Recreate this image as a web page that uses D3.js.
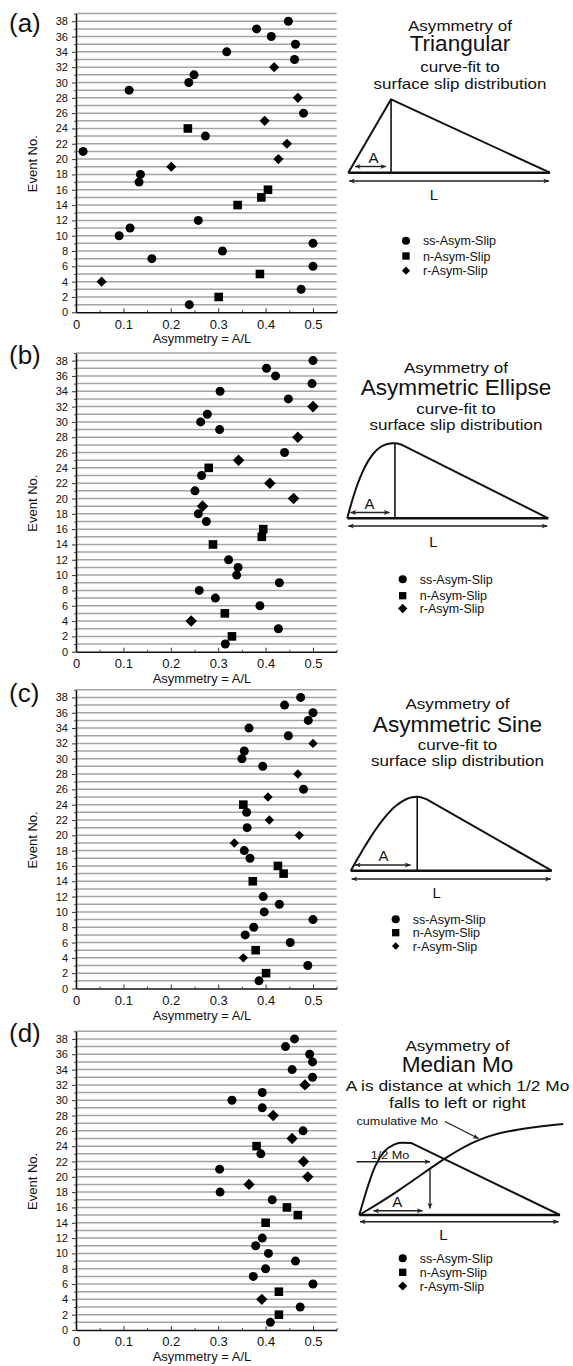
<!DOCTYPE html>
<html><head><meta charset="utf-8">
<script src="https://cdn.jsdelivr.net/npm/d3@7"></script>
<style>
body{margin:0;background:#fff}
svg{display:block}
text{font-family:"Liberation Sans",Arial,Helvetica,sans-serif;fill:#111}
</style>
</head><body>
<svg id="chart" width="573" height="1366"></svg>
<script>
// ---------------- data ----------------
const xTicks = [0, 0.1, 0.2, 0.3, 0.4, 0.5];
const xTickLabels = ["0", "0.1", "0.2", "0.3", "0.4", "0.5"];
const xMinorTicks = [0.05, 0.15, 0.25, 0.35, 0.45, 0.55];
const yTicks = [0, 2, 4, 6, 8, 10, 12, 14, 16, 18, 20, 22, 24, 26, 28, 30, 32, 34, 36, 38];
const yTickLabels = yTicks.map(String);
const events = [38,37,36,35,34,33,32,31,30,29,28,26,25,24,23,22,21,20,19,18,17,16,15,14,12,11,10,9,8,7,6,5,4,3,2,1];
const slipType = ["ss","ss","ss","ss","ss","ss","r","ss","ss","ss","r","ss","r","n","ss","r","ss","r","r","ss","ss","n","n","n","ss","ss","ss","ss","ss","ss","ss","n","r","ss","n","ss"];
const triangular = [0.448,0.381,0.412,0.463,0.318,0.461,0.418,0.249,0.238,0.112,0.468,0.480,0.398,0.236,0.273,0.445,0.015,0.427,0.201,0.136,0.133,0.405,0.391,0.341,0.258,0.114,0.091,0.500,0.309,0.160,0.500,0.388,0.054,0.475,0.301,0.239];
const asymEllipse = [0.500,0.402,0.421,0.498,0.304,0.448,0.500,0.277,0.263,0.303,0.468,0.440,0.343,0.280,0.265,0.409,0.251,0.459,0.267,0.258,0.275,0.395,0.392,0.289,0.322,0.342,0.339,0.429,0.260,0.294,0.388,0.314,0.243,0.427,0.329,0.315];
const asymSine = [0.474,0.440,0.500,0.490,0.365,0.448,0.500,0.355,0.350,0.394,0.468,0.480,0.405,0.353,0.360,0.408,0.361,0.471,0.334,0.355,0.367,0.426,0.438,0.373,0.395,0.429,0.397,0.500,0.375,0.357,0.452,0.379,0.353,0.489,0.401,0.386];
const medianMo = [0.461,0.442,0.493,0.499,0.456,0.499,0.483,0.393,0.329,0.393,0.416,0.479,0.456,0.381,0.390,0.480,0.303,0.489,0.365,0.304,0.414,0.445,0.468,0.400,0.393,0.379,0.406,0.463,0.400,0.374,0.500,0.428,0.392,0.473,0.428,0.410];
const legendLabels = ["ss-Asym-Slip", "n-Asym-Slip", "r-Asym-Slip"];
const legendTypes = ["ss", "n", "r"];
const panelLabels = ["(a)", "(b)", "(c)", "(d)"];
const diagramTitles = [
  ["Asymmetry of", "Triangular", "curve-fit to", "surface slip distribution"],
  ["Asymmetry of", "Asymmetric Ellipse", "curve-fit to", "surface slip distribution"],
  ["Asymmetry of", "Asymmetric Sine", "curve-fit to", "surface slip distribution"],
  ["Asymmetry of", "Median Mo", "A is distance at which 1/2 Mo", "falls to left or right"]
];
const seriesList = [triangular, asymEllipse, asymSine, medianMo];

// ---------------- layout ----------------
const layout = [
  {y0: 312.3, labY: 32, diamond: 7.2,
   titleY: [30.8, 51, 71.7, 88.5], titleX: 460, legX: 406, legY: [240.7, 256, 270.7]},
  {y0: 651.7, labY: 363.5, diamond: 8.2,
   titleY: [372.5, 394.5, 414, 430], titleX: 456, legX: 402.7, legY: [579.3, 595.7, 608.5]},
  {y0: 988.5, labY: 702, diamond: 6.6,
   titleY: [709.3, 731.5, 750, 766], titleX: 457.5, legX: 395.7, legY: [919.3, 932.7, 946]},
  {y0: 1330, labY: 1042, diamond: 8,
   titleY: [1051, 1072, 1091, 1107.5], titleX: 457.5, legX: 402.7, legY: [1258.3, 1272.3, 1286]}
];
const FONT = '"Liberation Sans",Arial,Helvetica,sans-serif';
const svg = d3.select("#chart");

// arrowhead marker
const defs = svg.append("defs");
defs.append("marker").attr("id", "ah").attr("viewBox", "0 0 10 10")
  .attr("refX", 9.5).attr("refY", 5).attr("markerWidth", 4.2).attr("markerHeight", 4.2)
  .attr("markerUnits", "strokeWidth").attr("orient", "auto-start-reverse")
  .append("path").attr("d", "M0,0.8L10,5L0,9.2L2.6,5Z").attr("fill", "#222");

const x = d3.scaleLinear().domain([0, 0.55]).range([76, 76 + 0.55 * 474]);

function markerPath(type, diamondSide) {
  if (type === "ss") return d3.symbol(d3.symbolCircle, Math.PI * 4.5 * 4.5)();
  if (type === "n") return d3.symbol(d3.symbolSquare, 8.6 * 8.6)();
  return d3.symbol(d3.symbolSquare, diamondSide * diamondSide)();
}
function markerTransform(type, cx, cy) {
  return type === "r" ? `translate(${cx},${cy}) rotate(45)` : `translate(${cx},${cy})`;
}

layout.forEach((L, pi) => {
  const g = svg.append("g");
  const y = d3.scaleLinear().domain([0, 39]).range([L.y0, L.y0 - 39 * 7.66]);

  // gridlines
  g.append("g").selectAll("line").data(d3.range(1, 40)).join("line")
    .attr("x1", x(0)).attr("x2", x(0.55))
    .attr("y1", d => y(d)).attr("y2", d => y(d))
    .attr("stroke", "#a4a4a4").attr("stroke-width", 1.5);

  // x axis
  const xa = g.append("g").attr("transform", `translate(0,${L.y0})`)
    .call(d3.axisBottom(x).tickValues(xTicks).tickFormat((d, i) => xTickLabels[i])
      .tickSizeInner(-4).tickSizeOuter(0).tickPadding(7));
  xa.select(".domain").attr("stroke", "#111").attr("stroke-width", 1.6);
  xa.selectAll(".tick line").attr("stroke", "#333").attr("stroke-width", 1);
  xa.selectAll("text").attr("font-size", 13).attr("font-family", FONT).attr("fill", "#111");
  const xm = g.append("g").attr("transform", `translate(0,${L.y0})`)
    .call(d3.axisBottom(x).tickValues(xMinorTicks).tickFormat("").tickSizeInner(-2).tickSizeOuter(0));
  xm.select(".domain").remove();
  xm.selectAll(".tick line").attr("stroke", "#444");

  // y axis
  const ya = g.append("g").attr("transform", `translate(${x(0)},0)`)
    .call(d3.axisLeft(y).tickValues(yTicks).tickFormat((d, i) => yTickLabels[i])
      .tickSizeInner(4).tickSizeOuter(0).tickPadding(4));
  ya.select(".domain").attr("stroke", "#111").attr("stroke-width", 1.6);
  ya.selectAll(".tick line").attr("stroke", "#333");
  ya.selectAll("text").attr("font-size", 11).attr("font-family", FONT).attr("fill", "#111");
  const ym = g.append("g").attr("transform", `translate(${x(0)},0)`)
    .call(d3.axisLeft(y).tickValues(d3.range(1, 40, 2)).tickFormat("").tickSizeInner(2).tickSizeOuter(0));
  ym.select(".domain").remove();
  ym.selectAll(".tick line").attr("stroke", "#444");

  // axis titles
  g.append("text").attr("x", 202).attr("y", L.y0 + 31).attr("text-anchor", "middle")
    .attr("font-size", 13).text("Asymmetry = A/L");
  g.append("text").attr("transform", `translate(37,${y(19.4)}) rotate(-90)`)
    .attr("text-anchor", "middle").attr("font-size", 13).text("Event No.");

  // panel label
  g.append("text").attr("x", 9).attr("y", L.labY).attr("font-size", 26).text(panelLabels[pi]);

  // points
  const vals = seriesList[pi];
  g.append("g").selectAll("path").data(events.map((e, i) => ({e, v: vals[i], t: slipType[i]})))
    .join("path")
    .attr("d", d => markerPath(d.t, L.diamond))
    .attr("transform", d => markerTransform(d.t, x(d.v), y(d.e)))
    .attr("fill", "#000");

  // diagram titles (slightly wide letterforms, as in the original artwork)
  const tsz = [14.8, 21.5, 14.8, 14.8];
  const tsx = [1.15, 1.05, 1.15, 1.15];
  diagramTitles[pi].forEach((t, k) => {
    const big = pi === 3 && k >= 2;
    g.append("text").attr("transform", `translate(${L.titleX},${L.titleY[k]}) scale(${big ? 1.12 : tsx[k]},1)`)
      .attr("text-anchor", "middle")
      .attr("font-size", big ? 15.5 : tsz[k]).text(t);
  });

  // legend
  legendTypes.forEach((t, k) => {
    g.append("path").attr("d", markerPath(t, t === "r" ? L.diamond * 0.95 : 0))
      .attr("transform", markerTransform(t, L.legX, L.legY[k]) + (t === "ss" ? " scale(0.9)" : " scale(0.85)"))
      .attr("fill", "#000");
    g.append("text").attr("x", L.legX + 17).attr("y", L.legY[k] + 4.5).attr("font-size", 12.5)
      .text(legendLabels[k]);
  });
});

// ---------------- explanatory diagrams ----------------
function arrowLine(g, x1, y1, x2, y2, both) {
  const l = g.append("line").attr("x1", x1).attr("y1", y1).attr("x2", x2).attr("y2", y2)
    .attr("stroke", "#222").attr("stroke-width", 1.4).attr("marker-end", "url(#ah)");
  if (both) l.attr("marker-start", "url(#ah)");
}
function label(g, txt, cx, cy, size) {
  g.append("text").attr("x", cx).attr("y", cy).attr("text-anchor", "middle")
    .attr("dominant-baseline", "central").attr("font-size", size).text(txt);
}
function baseAndArrows(g, dx, dy, aArrow, aLab, lY, lLab) {
  g.append("line").attr("x1", dx(0)).attr("x2", dx(1)).attr("y1", dy(0)).attr("y2", dy(0))
    .attr("stroke", "#111").attr("stroke-width", 2.4);
  arrowLine(g, aArrow[0], aArrow[2], aArrow[1], aArrow[2], true);
  label(g, "A", aLab[0], aLab[1], 15);
  arrowLine(g, dx(0) + 1, lY, dx(1) - 1, lY, true);
  label(g, "L", lLab[0], lLab[1], 15);
}
const lineGen = (dx, dy) => d3.line().x(p => dx(p[0])).y(p => dy(p[1]));

// (a) triangular
{
  const g = svg.append("g");
  const dx = d3.scaleLinear().domain([0, 1]).range([348.3, 550]);
  const dy = d3.scaleLinear().domain([0, 1]).range([172.7, 99.3]);
  const peak = 0.212;
  g.append("path").attr("d", lineGen(dx, dy)([[0, 0], [peak, 1], [1, 0]]))
    .attr("fill", "none").attr("stroke", "#111").attr("stroke-width", 2).attr("stroke-linejoin", "round");
  g.append("line").attr("x1", dx(peak)).attr("x2", dx(peak)).attr("y1", dy(1)).attr("y2", dy(0))
    .attr("stroke", "#111").attr("stroke-width", 1.6);
  baseAndArrows(g, dx, dy, [355, 386, 166.5], [373.5, 157], 181, [434, 194]);
}
// (b) asymmetric ellipse
{
  const g = svg.append("g");
  const dx = d3.scaleLinear().domain([0, 1]).range([347.3, 548.3]);
  const dy = d3.scaleLinear().domain([0, 1]).range([518.3, 443.3]);
  const peak = 0.237;
  const pts = d3.range(0, 1.0001, 0.05).map(u => [peak * u, 1 - Math.pow(1 - u, 2.5)]);
  pts.push([peak + 0.03, 0.985]);
  g.append("path").attr("d", lineGen(dx, dy).curve(d3.curveMonotoneX)(pts) + "L" + dx(1) + "," + dy(0))
    .attr("fill", "none").attr("stroke", "#111").attr("stroke-width", 2).attr("stroke-linejoin", "round");
  g.append("line").attr("x1", dx(peak)).attr("x2", dx(peak)).attr("y1", dy(1)).attr("y2", dy(0))
    .attr("stroke", "#111").attr("stroke-width", 1.6);
  baseAndArrows(g, dx, dy, [350.5, 389.5, 512.5], [369.5, 503.5], 526, [433.5, 541]);
}
// (c) asymmetric sine
{
  const g = svg.append("g");
  const dx = d3.scaleLinear().domain([0, 1]).range([350.7, 551.7]);
  const dy = d3.scaleLinear().domain([0, 1]).range([870.7, 796.7]);
  const peak = 0.331;
  const pts = d3.range(0, 1.0001, 0.05).map(u => [peak * u, Math.sin(Math.PI / 2 * u)]);
  pts.push([peak + 0.05, 0.96]);
  g.append("path").attr("d", lineGen(dx, dy).curve(d3.curveMonotoneX)(pts) + "L" + dx(1) + "," + dy(0))
    .attr("fill", "none").attr("stroke", "#111").attr("stroke-width", 2).attr("stroke-linejoin", "round");
  g.append("line").attr("x1", dx(peak)).attr("x2", dx(peak)).attr("y1", dy(1)).attr("y2", dy(0))
    .attr("stroke", "#111").attr("stroke-width", 1.6);
  baseAndArrows(g, dx, dy, [355, 410.5, 865], [383.5, 855.5], 879, [436.7, 892]);
}
// (d) median Mo
{
  const g = svg.append("g");
  const dx = d3.scaleLinear().domain([0, 1]).range([359.3, 560]);
  const dy = d3.scaleLinear().domain([0, 1]).range([1215, 1142.7]);
  const slipLeft = [[0, 0], [0.08, 0.68], [0.125, 0.88], [0.17, 0.97], [0.21, 1], [0.26, 0.995]];
  g.append("path").attr("d", lineGen(dx, dy).curve(d3.curveMonotoneX)(slipLeft) + "L" + dx(1) + "," + dy(0))
    .attr("fill", "none").attr("stroke", "#111").attr("stroke-width", 2).attr("stroke-linejoin", "round");
  const cumul = [[0, 0], [0.186, 0.31], [0.435, 0.81], [0.593, 1.06], [0.78, 1.19], [1.016, 1.26]];
  g.append("path").attr("d", lineGen(dx, dy).curve(d3.curveBasis)(cumul))
    .attr("fill", "none").attr("stroke", "#111").attr("stroke-width", 2);
  g.append("line").attr("x1", dx(0)).attr("x2", dx(1)).attr("y1", dy(0)).attr("y2", dy(0))
    .attr("stroke", "#111").attr("stroke-width", 2.4);
  // annotations
  g.append("text").attr("transform", "translate(356.5,1124.5) scale(1.15,1)").attr("font-size", 11).text("cumulative Mo");
  arrowLine(g, 445, 1121.5, 478.5, 1138.5, false);
  g.append("text").attr("transform", "translate(390,1158.5) scale(1.1,1)").attr("text-anchor", "middle").attr("font-size", 11.5).text("1/2 Mo");
  arrowLine(g, 356.5, 1161.7, 430, 1161.7, false);
  arrowLine(g, 430, 1169, 430, 1208.5, false);
  arrowLine(g, 373.5, 1210.7, 422.5, 1210.7, true);
  label(g, "A", 397.3, 1201.5, 15);
  arrowLine(g, 360, 1221.7, 558.5, 1221.7, true);
  label(g, "L", 443.3, 1234, 15);
}
</script>
</body></html>
